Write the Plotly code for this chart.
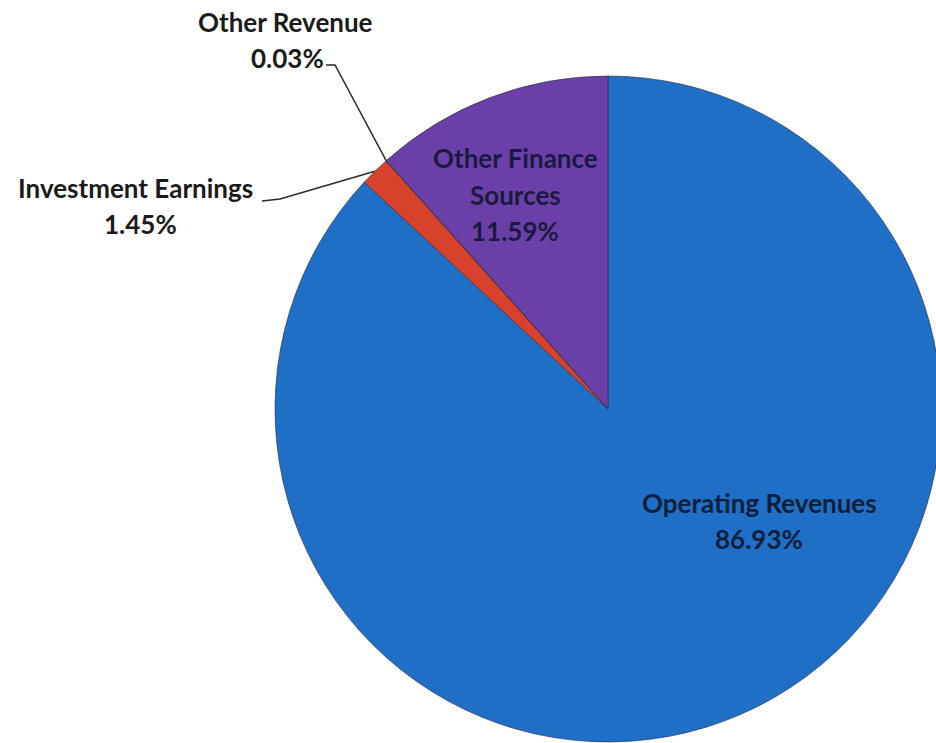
import math
import plotly.graph_objects as go

# ---- data ----
labels = ["Operating Revenues", "Investment Earnings", "Other Revenue", "Other Finance Sources"]
values = [86.93, 1.45, 0.03, 11.59]
value_text = ["86.93%", "1.45%", "0.03%", "11.59%"]
colors = ["#1F6FC6", "#D8412C", "#C43A2A", "#6A40A8"]

# ---- layout geometry (pixels) ----
W, H = 950, 743
CX, CY, R = 608, 409, 333

def px(x):
    return x / W

def py(y):
    return 1 - y / H

fig = go.Figure(go.Pie(
    labels=labels,
    values=values,
    sort=False,
    direction="clockwise",
    rotation=0,
    textinfo="none",
    hoverinfo="label+percent",
    marker=dict(colors=colors, line=dict(color="#2a2a3a", width=0.6)),
    domain=dict(x=[px(CX - R), px(CX + R)], y=[py(CY + R), py(CY - R)]),
    showlegend=False,
))

FONT = "Lato"

def rim_point(idx):
    total = sum(values)
    before = sum(values[:idx])
    frac = (before + values[idx] / 2) / total
    th = 2 * math.pi * frac
    return CX + R * math.sin(th), CY - R * math.cos(th)

annotations = []

def add_label(text, x, y, size=26, color="#1b1b1b"):
    annotations.append(dict(
        text=text, x=px(x), y=py(y), xref="paper", yref="paper",
        showarrow=False, xanchor="center", yanchor="middle",
        font=dict(family=FONT, size=size, color=color, weight="bold"),
    ))

# Outside labels
add_label(labels[2], 285, 22)
add_label(value_text[2], 287, 58)
add_label(labels[1], 135, 188)
add_label(value_text[1], 140, 224)
# Inside labels
add_label("Other Finance", 515, 158, color="#1a1a40")
add_label("Sources", 515, 195, color="#1a1a40")
add_label(value_text[3], 515, 231, color="#1a1a40")
add_label(labels[0], 759, 503, color="#0d1f3a")
add_label(value_text[0], 759, 539, color="#0d1f3a")

shapes = []
ox, oy = rim_point(2)
shapes.append(dict(type="path", xref="paper", yref="paper",
                   path=f"M {px(326)} {py(65)} L {px(335)} {py(65)} L {px(ox)} {py(oy)}",
                   line=dict(color="#2b2b2b", width=1.5)))
ix, iy = rim_point(1)
shapes.append(dict(type="path", xref="paper", yref="paper",
                   path=f"M {px(262)} {py(201)} L {px(280)} {py(199)} L {px(ix)} {py(iy)}",
                   line=dict(color="#2b2b2b", width=1.5)))

fig.update_layout(
    width=W, height=H,
    margin=dict(l=0, r=0, t=0, b=0),
    paper_bgcolor="white",
    plot_bgcolor="white",
    annotations=annotations,
    shapes=shapes,
)

fig.write_html("out.html",
               config={"displayModeBar": False},
               post_script="document.body.style.margin='0';document.body.style.overflow='hidden';")
